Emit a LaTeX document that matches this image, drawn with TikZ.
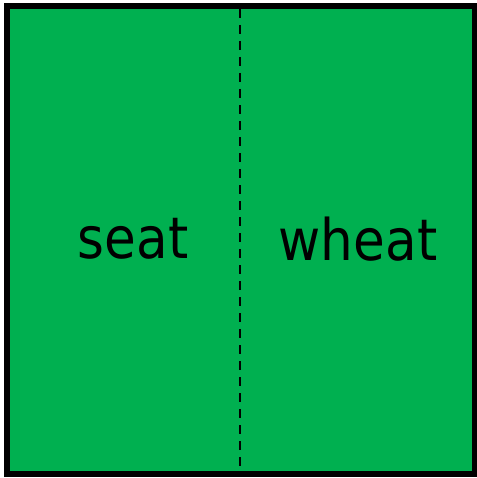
\documentclass[tikz,border=0pt]{standalone}
\usepackage{fontspec}
\setmainfont{DejaVu Sans Condensed}
\usepackage{tikz}
\usetikzlibrary{positioning}
\definecolor{field}{RGB}{0, 176, 80}

\begin{document}
\begin{tikzpicture}[x=0.75pt, y=-0.75pt,
        word/.style={font=\fontsize{43}{50}\selectfont, text=black, inner sep=0pt, anchor=base},
        split/.style={draw=black, line width=1.6pt, dash pattern=on 7pt off 5pt}]
    \useasboundingbox (0,0) rectangle (477,478);
    \fill[white] (0,0) rectangle (477,478);
    \draw[fill=field, draw=black, line width=4.5pt] (7,6) rectangle (475,474);
    % dashed divider
    \coordinate (top) at (240,9);
    \coordinate (bottom) at (240,471);
    \draw[split] (top) -- (bottom);
    \node[word] (seat) at (133,258) {seat};
    \node[word] (wheat) at (358,260) {wheat};
\end{tikzpicture}
\end{document}
